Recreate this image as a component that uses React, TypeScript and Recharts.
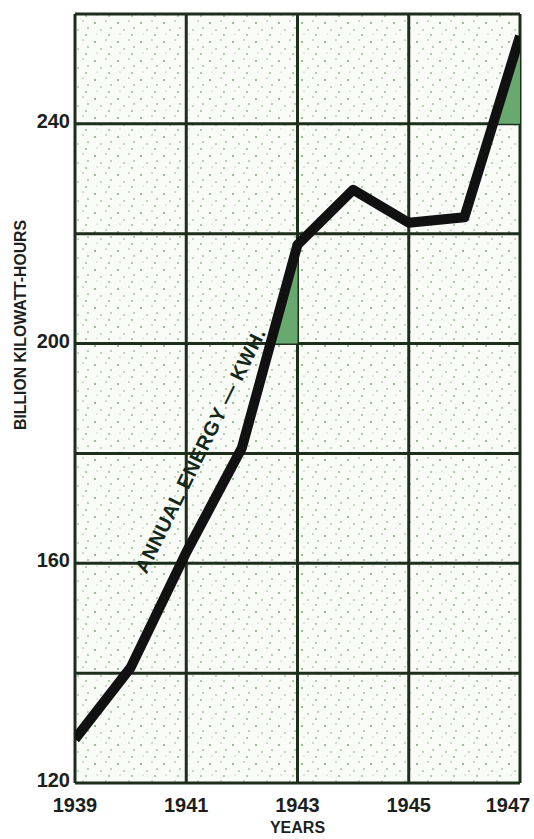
import React from "react";
import {
  ComposedChart,
  Line,
  Area,
  XAxis,
  YAxis,
  CartesianGrid,
  ReferenceDot,
} from "recharts";

// annual energy, billion kWh
const years = [1939, 1940, 1941, 1942, 1943, 1944, 1945, 1946, 1947];
const energy = [128, 141, 162, 181, 218, 228, 222, 223, 256];

const xTicks = [1939, 1941, 1943, 1945, 1947];
const yTicks = [120, 140, 160, 180, 200, 220, 240, 260];
const yLabelled = [120, 160, 200, 240];

// the two green wedges under the line
const shadeAYears = [1942.5, 1943];
const shadeALow = [200, 200];
const shadeAHigh = [200, 218];
const shadeBYears = [1946.5, 1947];
const shadeBLow = [240, 240];
const shadeBHigh = [240, 256];

const lineData = years.map((year, i) => ({ year, kwh: energy[i] }));
const shadeA = shadeAYears.map((year, i) => ({ year, band: [shadeALow[i], shadeAHigh[i]] }));
const shadeB = shadeBYears.map((year, i) => ({ year, band: [shadeBLow[i], shadeBHigh[i]] }));

const ink = "#1c1f1c";
const gridInk = "#1d2e1d";
const wedge = "#67a96f";
const font = "'Liberation Sans', Arial, sans-serif";

const XTick = ({ x, y, payload }) => (
  <text
    x={payload.value === 1947 ? x - 10 : x}
    y={y}
    dy="0.71em"
    textAnchor="middle"
    fill={ink}
    fontFamily={font}
    fontWeight="bold"
    fontSize={20}
  >
    {payload.value}
  </text>
);

const YTick = ({ x, y, payload }) =>
  yLabelled.includes(payload.value) ? (
    <text
      x={x}
      y={y - 3}
      dy="0.355em"
      textAnchor="end"
      fill={ink}
      fontFamily={font}
      fontWeight="bold"
      fontSize={20}
    >
      {payload.value}
    </text>
  ) : null;

const YTitle = () => (
  <text
    x={20}
    y={325}
    transform="rotate(-90, 20, 325)"
    textAnchor="middle"
    dominantBaseline="central"
    fill={ink}
    fontFamily={font}
    fontWeight="bold"
    fontSize={16}
    textLength={210}
    lengthAdjust="spacingAndGlyphs"
  >
    BILLION KILOWATT-HOURS
  </text>
);

const Annotation = ({ viewBox }) => {
  const cx = viewBox.x + viewBox.width / 2;
  const cy = viewBox.y + viewBox.height / 2;
  return (
    <text
      x={cx}
      y={cy}
      transform={`rotate(-63.7, ${cx}, ${cy})`}
      textAnchor="middle"
      dominantBaseline="central"
      fill="#14281a"
      fontFamily={font}
      fontWeight={900}
      fontSize={20}
      textLength={270}
      lengthAdjust="spacing"
    >
      ANNUAL ENERGY — KWH.
    </text>
  );
};

export default function App() {
  return (
    <div style={{ position: "absolute", left: 0, top: 0, background: "#fff" }}>
      <ComposedChart
        width={534}
        height={839}
        margin={{ top: 14, right: 14, left: 0, bottom: 0 }}
      >
        <defs>
          <pattern id="speckle" width="23" height="19" patternUnits="userSpaceOnUse">
            <rect width="23" height="19" fill="#f8fbf6" />
            <circle cx="3" cy="4" r="0.9" fill="#6f9f6a" />
            <circle cx="14" cy="2" r="0.7" fill="#8a9a88" />
            <circle cx="9" cy="11" r="0.8" fill="#79a974" />
            <circle cx="19" cy="9" r="0.7" fill="#5d7a5a" />
            <circle cx="17" cy="16" r="0.9" fill="#88b783" />
            <circle cx="5" cy="15" r="0.6" fill="#9aa898" />
          </pattern>
        </defs>
        <CartesianGrid
          stroke={gridInk}
          strokeWidth={3}
          fill="url(#speckle)"
          fillOpacity={1}
        />
        <XAxis
          dataKey="year"
          type="number"
          domain={[1939, 1947]}
          ticks={xTicks}
          allowDataOverflow
          axisLine={false}
          tickLine={false}
          tickSize={0}
          tickMargin={15}
          height={56}
          tick={<XTick />}
          label={{
            value: "YEARS",
            position: "insideBottom",
            offset: 6,
            fill: ink,
            fontFamily: font,
            fontWeight: "bold",
            fontSize: 16,
          }}
        />
        <YAxis
          type="number"
          domain={[120, 260]}
          ticks={yTicks}
          axisLine={false}
          tickLine={false}
          tickSize={0}
          tickMargin={5}
          width={75}
          tick={<YTick />}
          label={{ content: () => <YTitle /> }}
        />
        <Area
          data={shadeA}
          dataKey="band"
          type="linear"
          stroke="none"
          fill={wedge}
          fillOpacity={1}
          isAnimationActive={false}
        />
        <Area
          data={shadeB}
          dataKey="band"
          type="linear"
          stroke="none"
          fill={wedge}
          fillOpacity={1}
          isAnimationActive={false}
        />
        <Line
          data={lineData}
          dataKey="kwh"
          type="linear"
          stroke="#111"
          strokeWidth={10}
          strokeLinejoin="round"
          dot={false}
          activeDot={false}
          isAnimationActive={false}
        />
        <ReferenceDot
          x={1941.25}
          y={180.5}
          r={0}
          stroke="none"
          fill="none"
          label={{ content: (p) => <Annotation {...p} /> }}
        />
      </ComposedChart>
    </div>
  );
}
